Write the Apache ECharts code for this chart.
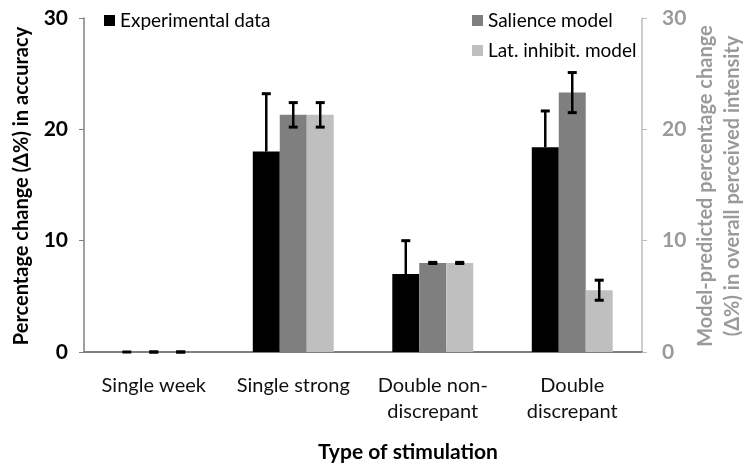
<!DOCTYPE html>
<html>
<head>
<meta charset="utf-8">
<script src="https://cdn.jsdelivr.net/npm/echarts@6/dist/echarts.min.js"></script>
<style>
  html, body { margin: 0; padding: 0; background: #fff; }
  #chart { width: 744px; height: 466px; }
</style>
</head>
<body>
<div id="chart"></div>
<script>
  // categories and values
  var categories = ['Single week', 'Single strong', 'Double non-\ndiscrepant', 'Double\ndiscrepant'];
  var experimental = [0, 18.0, 7.0, 18.4];
  var experimentalErr = [0, 5.2, 3.0, 3.25];   // upper only
  var salience = [0, 21.3, 8.0, 23.3];
  var salienceErr = [0, 1.1, 0.05, 1.8];
  var latInhibit = [0, 21.3, 8.0, 5.55];
  var latInhibitErr = [0, 1.1, 0.05, 0.9];

  var FONT = 'Lato';
  var GAP = 0.42;

  var chart = echarts.init(document.getElementById('chart'));

  // error bar for bar number k of 3 inside each category
  function errorBars(values, errs, k, upOnly) {
    return {
      type: 'custom',
      silent: true,
      z: 10,
      data: values.map(function (v, i) { return [i, v, errs[i]]; }),
      renderItem: function (params, api) {
        var i = api.value(0), v = api.value(1), e = api.value(2);
        var band = api.size([1, 0])[0];
        var bw = band * (1 - GAP) / 3;
        var base = api.coord([i, v]);
        var x = base[0] + (k - 1) * bw;
        var top = api.coord([i, v + e])[1];
        var bot = upOnly ? base[1] : api.coord([i, v - e])[1];
        var cap = 4.5;
        var kids = [
          { type: 'line', shape: { x1: x, y1: top, x2: x, y2: bot }, style: { stroke: '#000', lineWidth: 2.5 } },
          { type: 'line', shape: { x1: x - cap, y1: top, x2: x + cap, y2: top }, style: { stroke: '#000', lineWidth: 3 } }
        ];
        if (!upOnly) {
          kids.push({ type: 'line', shape: { x1: x - cap, y1: bot, x2: x + cap, y2: bot }, style: { stroke: '#000', lineWidth: 3 } });
        }
        return { type: 'group', children: kids };
      }
    };
  }

  var legendText = { fontFamily: FONT, fontSize: 19, color: '#000' };

  chart.setOption({
    animation: false,
    backgroundColor: '#fff',
    grid: { left: 84, right: 102, top: 18, bottom: 114 },
    legend: [
      { data: ['Experimental data'], left: 99, top: 6, itemWidth: 11, itemHeight: 11, itemGap: 8,
        textStyle: legendText, icon: 'rect' },
      { data: ['Salience model'], left: 467, top: 6, itemWidth: 11, itemHeight: 11,
        textStyle: legendText, icon: 'rect' },
      { data: ['Lat. inhibit. model'], left: 467, top: 36, itemWidth: 11, itemHeight: 11,
        textStyle: legendText, icon: 'rect' }
    ],
    xAxis: {
      type: 'category',
      data: categories,
      axisLine: { lineStyle: { color: '#808080', width: 2 } },
      axisTick: { show: false },
      axisLabel: { interval: 0, fontFamily: FONT, fontSize: 20, color: '#111', margin: 21, lineHeight: 26 }
    },
    yAxis: [
      {
        type: 'value', min: 0, max: 30, interval: 10,
        splitLine: { show: false },
        axisLine: { show: true, lineStyle: { color: '#808080', width: 1.5 } },
        axisTick: { show: true, inside: false, length: 5, lineStyle: { color: '#808080' } },
        axisLabel: { fontFamily: FONT, fontSize: 21, fontWeight: 'bold', color: '#000', margin: 16 }
      },
      {
        type: 'value', min: 0, max: 30, interval: 10, position: 'right',
        splitLine: { show: false },
        axisLine: { show: true, lineStyle: { color: '#bdbdbd', width: 1.5 } },
        axisTick: { show: true, inside: false, length: 5, lineStyle: { color: '#bdbdbd' } },
        axisLabel: { fontFamily: FONT, fontSize: 21, fontWeight: 'bold', color: '#9a9a9a', margin: 20 }
      }
    ],
    graphic: [
      { type: 'text', x: 22, y: 186, rotation: Math.PI / 2,
        style: { text: 'Percentage change (Δ%) in accuracy', fontFamily: FONT, fontSize: 20, fontWeight: 'bold',
                 fill: '#000', align: 'center', verticalAlign: 'middle' } },
      { type: 'text', x: 719, y: 186, rotation: Math.PI / 2,
        style: { text: 'Model-predicted percentage change\n(Δ%) in overall perceived intensity', fontFamily: FONT,
                 fontSize: 20, fontWeight: 'bold', fill: '#9a9a9a', align: 'center', verticalAlign: 'middle',
                 lineHeight: 27 } },
      { type: 'text', x: 408, y: 452,
        style: { text: 'Type of stimulation', fontFamily: FONT, fontSize: 21, fontWeight: 'bold',
                 fill: '#000', align: 'center', verticalAlign: 'middle' } }
    ],
    series: [
      { name: 'Experimental data', type: 'bar', data: experimental, barGap: 0, barCategoryGap: '42%',
        itemStyle: { color: '#000' } },
      { name: 'Salience model', type: 'bar', data: salience, barGap: 0, barCategoryGap: '42%',
        itemStyle: { color: '#7f7f7f' } },
      { name: 'Lat. inhibit. model', type: 'bar', data: latInhibit, barGap: 0, barCategoryGap: '42%',
        itemStyle: { color: '#bfbfbf' } },
      errorBars(experimental, experimentalErr, 0, true),
      errorBars(salience, salienceErr, 1, false),
      errorBars(latInhibit, latInhibitErr, 2, false)
    ]
  });
</script>
</body>
</html>
